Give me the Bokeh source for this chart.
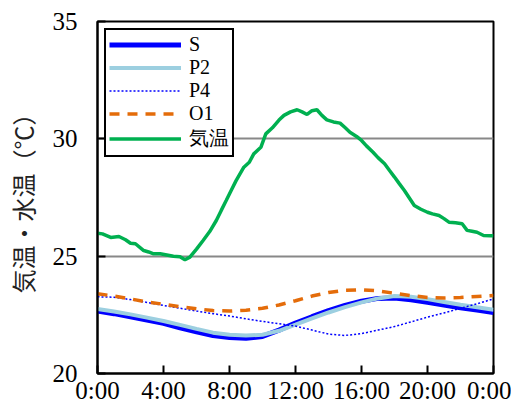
from bokeh.plotting import figure
from bokeh.models import FixedTicker, Range1d
from bokeh.embed import file_html
from bokeh.resources import INLINE

# Water temperatures (hourly, 0:00 .. 24:00)
hours = list(range(25))
S = [22.66, 22.55, 22.42, 22.28, 22.14, 21.95, 21.78, 21.62, 21.53, 21.50, 21.58, 21.85, 22.15,
     22.42, 22.68, 22.90, 23.08, 23.20, 23.22, 23.14, 23.03, 22.92, 22.80, 22.70, 22.60]
P2 = [22.75, 22.64, 22.52, 22.38, 22.24, 22.07, 21.90, 21.74, 21.65, 21.62, 21.65, 21.82, 22.08,
      22.35, 22.60, 22.83, 23.03, 23.20, 23.30, 23.27, 23.17, 23.05, 22.93, 22.82, 22.72]
P4 = [23.27, 23.25, 23.15, 23.03, 22.90, 22.78, 22.66, 22.55, 22.45, 22.33, 22.22, 22.12, 22.02,
      21.85, 21.68, 21.62, 21.70, 21.85, 22.00, 22.20, 22.40, 22.58, 22.78, 22.97, 23.18]
O1 = [23.40, 23.30, 23.18, 23.05, 22.95, 22.85, 22.76, 22.68, 22.66, 22.70, 22.78, 22.92, 23.10,
      23.30, 23.45, 23.55, 23.57, 23.52, 23.42, 23.32, 23.24, 23.22, 23.24, 23.28, 23.32]

# Air temperature
air_hours = [0.0, 0.3, 0.8, 1.3, 1.7, 2.0, 2.3, 2.8, 3.1, 3.4, 3.8, 4.2, 4.6, 5.0, 5.3, 5.6,
             6.0, 6.4, 6.8, 7.2, 7.5, 7.8, 8.1, 8.4, 8.87, 9.2, 9.47, 9.9, 10.2, 10.6, 11.0,
             11.3, 11.7, 12.1, 12.4, 12.7, 13.0, 13.3, 13.6, 13.9, 14.3, 14.7, 15.0, 15.3,
             15.7, 16.0, 16.3, 16.7, 17.0, 17.4, 17.7, 18.0, 18.3, 18.6, 18.9, 19.2, 19.6,
             20.0, 20.3, 20.7, 21.0, 21.3, 21.7, 22.1, 22.4, 22.7, 23.0, 23.4, 23.8, 24.0]
air = [25.98, 25.95, 25.80, 25.84, 25.70, 25.55, 25.53, 25.24, 25.18, 25.10, 25.10, 25.05, 25.00,
       24.98, 24.85, 24.96, 25.30, 25.67, 26.05, 26.52, 26.95, 27.37, 27.80, 28.22, 28.79, 29.00,
       29.36, 29.64, 30.21, 30.47, 30.80, 31.00, 31.15, 31.24, 31.15, 31.04, 31.20, 31.24, 31.00,
       30.81, 30.72, 30.67, 30.48, 30.28, 30.10, 29.93, 29.70, 29.43, 29.20, 28.94, 28.65, 28.37,
       28.08, 27.80, 27.48, 27.16, 27.00, 26.87, 26.80, 26.73, 26.60, 26.45, 26.42, 26.38, 26.10,
       26.06, 26.02, 25.88, 25.87, 25.87]

x_ticks = [0, 4, 8, 12, 16, 20, 24]
x_labels = ["0:00", "4:00", "8:00", "12:00", "16:00", "20:00", "0:00"]
y_ticks = [20, 25, 30, 35]

FONT = "Liberation Serif"

p = figure(width=511, height=406, output_backend="svg", toolbar_location=None,
           x_range=Range1d(0, 24), y_range=Range1d(20, 35),
           min_border_left=97, min_border_right=18, min_border_top=21, min_border_bottom=33)
p.background_fill_color = "white"
p.border_fill_color = "white"
p.outline_line_color = "black"
p.outline_line_width = 2

p.xaxis.ticker = FixedTicker(ticks=x_ticks)
p.xaxis.major_label_overrides = {t: l for t, l in zip(x_ticks, x_labels)}
p.yaxis.ticker = FixedTicker(ticks=y_ticks)
for ax in (p.xaxis[0], p.yaxis[0]):
    ax.axis_line_color = "black"
    ax.axis_line_width = 2
    ax.major_tick_line_color = "black"
    ax.major_tick_line_width = 2
    ax.major_tick_in = 8
    ax.major_tick_out = 0
    ax.minor_tick_line_color = None
    ax.major_label_text_font = FONT
    ax.major_label_text_font_size = "25px"
    ax.major_label_text_color = "black"
p.xaxis.major_label_standoff = 3
p.yaxis.major_label_standoff = 20
p.yaxis.axis_label = "気温・水温（℃）"
p.yaxis.axis_label_text_font = "Noto Sans CJK JP"
p.yaxis.axis_label_text_font_size = "24px"
p.yaxis.axis_label_text_font_style = "normal"
p.yaxis.axis_label_text_color = "#222222"
p.yaxis.axis_label_standoff = 10

p.xgrid.grid_line_color = None
p.ygrid.grid_line_color = "#888888"
p.ygrid.grid_line_width = 2

p.line(hours, S, line_color="#0000FF", line_width=5, legend_label="S")
p.line(hours, P2, line_color="#9CCFE0", line_width=4, legend_label="P2")
p.line(hours, P4, line_color="#0000FF", line_width=1.5, line_dash="2 2", legend_label="P4")
p.line(hours, O1, line_color="#E46C0A", line_width=3.5, line_dash="10 8", legend_label="O1")
p.line(air_hours, air, line_color="#00B050", line_width=3.5, legend_label="気温")

lg = p.legend[0]
lg.location = "top_left"
lg.margin = 7
lg.padding = 3
lg.spacing = 0
lg.glyph_width = 72
lg.glyph_height = 23
lg.label_height = 23
lg.label_standoff = 8
lg.label_text_font = FONT
lg.label_text_font_size = "20px"
lg.label_text_line_height = 1.0
lg.label_text_color = "black"
lg.border_line_color = "black"
lg.border_line_width = 2
lg.border_line_alpha = 1.0
lg.background_fill_alpha = 1.0

open("out.html", "w").write(file_html(p, INLINE))
